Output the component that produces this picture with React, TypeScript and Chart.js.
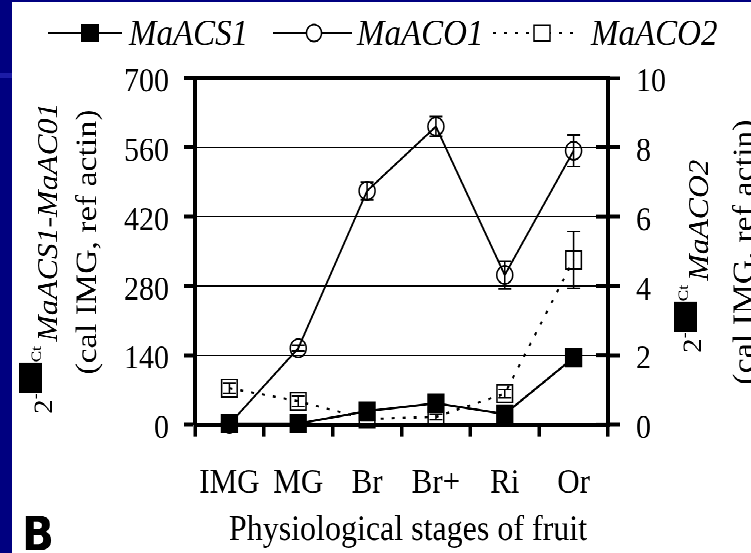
import React, { useEffect, useRef } from 'react';
import { Chart, registerables } from 'chart.js';

Chart.register(...registerables);

// ---------- data ----------
const categories = ['IMG', 'MG', 'Br', 'Br+', 'Ri', 'Or'];
const maACS1 = [2, 2, 27, 43, 21, 135];
const maACO1 = [1, 154, 472, 602, 302, 553];
const maACO1Err = [0, 6, 18, 20, 28, 32];
const maACO2 = [1.05, 0.67, 0.16, 0.22, 0.89, 4.75];
const maACO2Err = [0.15, 0.15, 0.05, 0.08, 0.12, 0.82];
const leftTicks = [0, 140, 280, 420, 560, 700];
const rightTicks = [0, 2, 4, 6, 8, 10];
const legendLabels = ['MaACS1', 'MaACO1', 'MaACO2'];
const xTitle = 'Physiological stages of fruit';
const leftTitleGene = 'MaACS1-MaAC01';
const rightTitleGene = 'MaACO2';
const calText = '(cal IMG, ref actin)';
const panelLetter = 'B';

// ---------- layout ----------
const W = 739;
const H = 488;
const S = 551 / H;
const SERIF = '"Liberation Serif", "Times New Roman", serif';

const errorBarPlugin = {
  id: 'errorBars',
  afterDatasetDraw(chart: any, args: any) {
    const ds = chart.data.datasets[args.index];
    const errs = ds.errors;
    if (!errs) return;
    const scale = chart.scales[ds.yAxisID];
    const ctx = chart.ctx;
    ctx.save();
    ctx.strokeStyle = '#000';
    ctx.lineWidth = 1.5;
    ctx.setLineDash([]);
    args.meta.data.forEach((pt: any, i: number) => {
      const e = errs[i];
      if (!e) return;
      const v = ds.data[i];
      const yT = scale.getPixelForValue(v + e);
      const yB = scale.getPixelForValue(v - e);
      const x = pt.x;
      const cw = 6.5;
      ctx.beginPath();
      ctx.moveTo(x, yT);
      ctx.lineTo(x, yB);
      ctx.moveTo(x - cw, yT);
      ctx.lineTo(x + cw, yT);
      ctx.moveTo(x - cw, yB);
      ctx.lineTo(x + cw, yB);
      ctx.stroke();
    });
    ctx.restore();
  },
};

const innerTickPlugin = {
  id: 'innerTicks',
  beforeDatasetsDraw(chart: any) {
    const s = chart.scales.y1;
    const ctx = chart.ctx;
    const right = chart.chartArea.right;
    ctx.save();
    ctx.strokeStyle = '#000';
    ctx.lineWidth = 3.5;
    s.ticks.forEach((t: any) => {
      const y = s.getPixelForValue(t.value);
      ctx.beginPath();
      ctx.moveTo(right - 12, y);
      ctx.lineTo(right, y);
      ctx.stroke();
    });
    ctx.restore();
  },
};

function drawRotatedTitle(
  ctx: CanvasRenderingContext2D,
  x0: number,
  y0: number,
  gene: string,
  o: { boxV0: number; boxV1: number; boxLen: number; ctV: number; geneV: number }
) {
  ctx.save();
  ctx.translate(x0, y0);
  ctx.rotate(-Math.PI / 2);
  ctx.fillStyle = '#000';
  ctx.textBaseline = 'alphabetic';
  ctx.textAlign = 'left';
  let u = 0;
  ctx.font = `26px ${SERIF}`;
  ctx.fillText('2', u, 0);
  u += ctx.measureText('2').width;
  ctx.font = `16px ${SERIF}`;
  ctx.fillText('-', u, -12);
  u += ctx.measureText('-').width + 0.5;
  ctx.fillRect(u, o.boxV0, o.boxLen, o.boxV1 - o.boxV0);
  u += o.boxLen + 0.5;
  ctx.font = `15px ${SERIF}`;
  ctx.fillText('Ct', u, o.ctV);
  u += ctx.measureText('Ct').width + 4;
  ctx.font = `italic 28px ${SERIF}`;
  ctx.fillText(gene, u, o.geneV);
  ctx.restore();
}

function drawRotatedCentered(ctx: CanvasRenderingContext2D, x0: number, y0: number, text: string, font: string) {
  ctx.save();
  ctx.translate(x0, y0);
  ctx.rotate(-Math.PI / 2);
  ctx.fillStyle = '#000';
  ctx.font = font;
  ctx.textAlign = 'center';
  ctx.textBaseline = 'alphabetic';
  ctx.fillText(text, 0, 0);
  ctx.restore();
}

const textPlugin = {
  id: 'texts',
  afterDraw(chart: any) {
    const ctx: CanvasRenderingContext2D = chart.ctx;
    ctx.save();
    ctx.fillStyle = '#000';
    ctx.strokeStyle = '#000';

    // legend
    const ly = 27.5;
    const tb = 38.1;
    ctx.font = `italic 33px ${SERIF}`;
    ctx.textAlign = 'left';
    ctx.textBaseline = 'alphabetic';
    // MaACS1
    ctx.lineWidth = 2;
    ctx.setLineDash([]);
    ctx.beginPath();
    ctx.moveTo(36, ly);
    ctx.lineTo(110, ly);
    ctx.stroke();
    ctx.fillRect(78 - 9, ly - 8, 18, 16);
    ctx.fillText(legendLabels[0], 117, tb);
    // MaACO1
    ctx.beginPath();
    ctx.moveTo(261, ly);
    ctx.lineTo(340, ly);
    ctx.stroke();
    ctx.lineWidth = 1.5;
    ctx.beginPath();
    ctx.arc(302, ly, 7.5, 0, Math.PI * 2);
    ctx.fillStyle = '#fff';
    ctx.fill();
    ctx.stroke();
    ctx.fillStyle = '#000';
    ctx.fillText(legendLabels[1], 345, tb);
    // MaACO2
    ctx.lineWidth = 2;
    ctx.setLineDash([3, 8]);
    ctx.beginPath();
    ctx.moveTo(481, ly);
    ctx.lineTo(563, ly);
    ctx.stroke();
    ctx.setLineDash([]);
    ctx.lineWidth = 1.5;
    ctx.fillStyle = '#fff';
    ctx.fillRect(530 - 8, ly - 7, 16, 14);
    ctx.strokeRect(530 - 8, ly - 7, 16, 14);
    ctx.fillStyle = '#000';
    ctx.fillText(legendLabels[2], 579, tb);

    // x title
    ctx.font = `32px ${SERIF}`;
    ctx.textAlign = 'center';
    ctx.fillText(xTitle, 396, 476.5);

    // panel letter
    ctx.font = 'bold 42px "DejaVu Sans", sans-serif';
    ctx.textAlign = 'left';
    ctx.fillText(panelLetter, 10, 485.4);
    ctx.restore();

    // left y title
    drawRotatedTitle(ctx, 40, (414 - 2) / S, leftTitleGene, {
      boxV0: -33,
      boxV1: -10,
      boxLen: 26.6,
      ctV: -11,
      geneV: 5,
    });
    drawRotatedCentered(ctx, 84, (242 - 2) / S, calText, `30px ${SERIF}`);

    // right y title
    drawRotatedTitle(ctx, 689, (353 - 2) / S, rightTitleGene, {
      boxV0: -27,
      boxV1: -4,
      boxLen: 26.6,
      ctV: -13,
      geneV: 7,
    });
    drawRotatedCentered(ctx, 741, (252 - 2) / S, calText, `30px ${SERIF}`);
  },
};

export default function App() {
  const ref = useRef<HTMLCanvasElement | null>(null);

  useEffect(() => {
    if (!ref.current) return;
    const chart = new Chart(ref.current, {
      type: 'line',
      data: {
        labels: categories,
        datasets: [
          {
            label: legendLabels[0],
            data: maACS1,
            yAxisID: 'y',
            borderColor: '#000',
            borderWidth: 2,
            pointStyle: 'rect',
            pointRadius: 11.5,
            pointBackgroundColor: '#000',
            pointBorderColor: '#000',
            pointBorderWidth: 1,
            tension: 0,
            clip: false,
          } as any,
          {
            label: legendLabels[1],
            data: maACO1,
            errors: maACO1Err,
            yAxisID: 'y',
            borderColor: '#000',
            borderWidth: 1.8,
            pointStyle: 'circle',
            pointRadius: 8,
            pointBackgroundColor: 'rgba(0,0,0,0)',
            pointBorderColor: '#000',
            pointBorderWidth: 1.5,
            tension: 0,
            clip: false,
          } as any,
          {
            label: legendLabels[2],
            data: maACO2,
            errors: maACO2Err,
            yAxisID: 'y1',
            borderColor: '#000',
            borderWidth: 2,
            borderDash: [3, 8],
            pointStyle: 'rect',
            pointRadius: 11,
            pointBackgroundColor: 'rgba(0,0,0,0)',
            pointBorderColor: '#000',
            pointBorderWidth: 1.5,
            tension: 0,
            clip: false,
          } as any,
        ],
      },
      options: {
        responsive: false,
        devicePixelRatio: 2,
        animation: false,
        events: [],
        layout: { padding: { top: (78 - 2) / S, left: 0, right: 0, bottom: 0 } },
        plugins: {
          legend: { display: false },
          tooltip: { enabled: false },
          title: { display: false },
        },
        scales: {
          x: {
            offset: true,
            grid: {
              offset: true,
              drawOnChartArea: false,
              drawTicks: true,
              tickLength: 12 / S,
              tickWidth: 3.5,
              tickColor: '#000',
              color: '#000',
              lineWidth: 3.5,
            },
            border: { display: true, color: '#000', width: 3.5 },
            ticks: {
              color: '#000',
              font: { family: SERIF, size: 31, lineHeight: 1 },
              padding: 25.8,
              maxRotation: 0,
              autoSkip: false,
            },
            afterFit: (s: any) => {
              s.height = H - (424.5 - 2) / S;
            },
          },
          y: {
            position: 'left',
            min: 0,
            max: 700,
            afterBuildTicks: (s: any) => {
              s.ticks = leftTicks.map((v) => ({ value: v }));
            },
            grid: {
              color: '#000',
              lineWidth: (c: any) => (c.tick && c.tick.value === 700 ? 3.5 : 1),
              tickLength: 11,
              tickWidth: 3.5,
              tickColor: '#000',
            },
            border: { display: true, color: '#000', width: 4 },
            ticks: {
              color: '#000',
              font: { family: SERIF, size: 30 },
              padding: 15,
              labelOffset: 4,
            },
            afterFit: (s: any) => {
              s.width = 183;
            },
          },
          y1: {
            position: 'right',
            min: 0,
            max: 10,
            afterBuildTicks: (s: any) => {
              s.ticks = rightTicks.map((v) => ({ value: v }));
            },
            grid: {
              drawOnChartArea: false,
              color: '#000',
              tickLength: 12,
              tickWidth: 3.5,
              tickColor: '#000',
            },
            border: { display: true, color: '#000', width: 4 },
            ticks: {
              color: '#000',
              font: { family: SERIF, size: 30 },
              padding: 16,
              labelOffset: 4,
            },
            afterFit: (s: any) => {
              s.width = W - 596;
            },
          },
        },
      } as any,
      plugins: [innerTickPlugin, errorBarPlugin, textPlugin],
    });
    return () => chart.destroy();
  }, []);

  return (
    <div
      style={{
        position: 'fixed',
        left: 0,
        top: 0,
        width: 751,
        height: 553,
        background: '#000080',
        overflow: 'hidden',
      }}
    >
      <div style={{ position: 'absolute', left: 0, top: 73, width: 12, height: 5, background: '#1c1ca6' }} />
      <div
        style={{
          position: 'absolute',
          left: 12,
          top: 2,
          width: W,
          height: H,
          background: '#fff',
          transform: `scaleY(${S})`,
          transformOrigin: '0 0',
        }}
      >
        <canvas ref={ref} width={W} height={H} style={{ display: 'block' }} />
      </div>
    </div>
  );
}
